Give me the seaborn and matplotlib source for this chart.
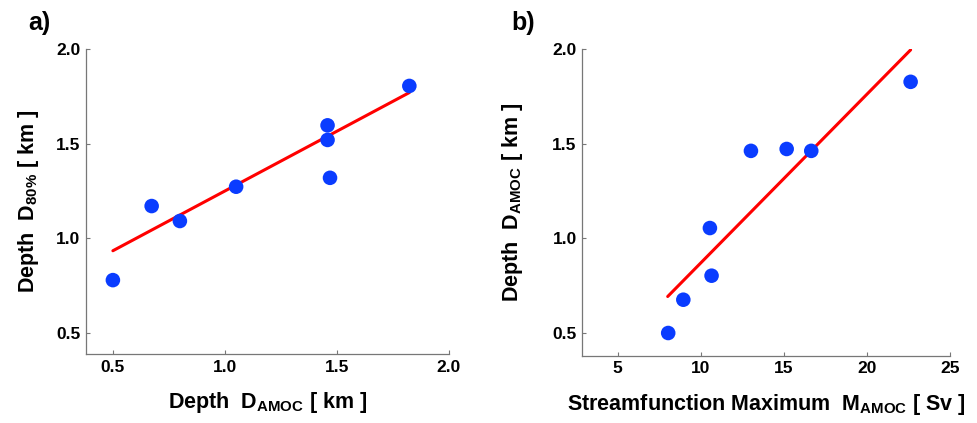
import numpy as np
import pandas as pd
import matplotlib
matplotlib.use("Agg")
import matplotlib.pyplot as plt
import seaborn as sns

# Panel a data
a_x = [0.50, 0.673, 0.799, 1.05, 1.458, 1.458, 1.469, 1.823]
a_y = [0.78, 1.171, 1.092, 1.273, 1.597, 1.52, 1.32, 1.805]
a_fit_x = [0.50, 1.823]
a_fit_y = [0.935, 1.77]

# Panel b data
b_x = [8.04, 8.95, 10.55, 10.65, 13.02, 15.17, 16.65, 22.63]
b_y = [0.50, 0.676, 1.055, 0.803, 1.463, 1.473, 1.463, 1.828]
b_fit_x = [8.01, 22.63]
b_fit_y = [0.693, 1.997]

a_xticks = [0.5, 1.0, 1.5, 2.0]
b_xticks = [5, 10, 15, 20, 25]
yticks = [0.5, 1.0, 1.5, 2.0]

sns.set_style("ticks")
plt.rcParams['font.family'] = ['Liberation Sans', 'DejaVu Sans']
plt.rcParams['font.weight'] = 'bold'
plt.rcParams['text.color'] = 'black'
plt.rcParams['axes.labelcolor'] = 'black'
plt.rcParams['xtick.labelcolor'] = 'black'
plt.rcParams['ytick.labelcolor'] = 'black'
plt.rcParams['mathtext.fontset'] = 'custom'
plt.rcParams['mathtext.rm'] = 'Liberation Sans:bold'
plt.rcParams['mathtext.bf'] = 'Liberation Sans:bold'
plt.rcParams['mathtext.it'] = 'Liberation Sans:bold'
plt.rcParams['mathtext.default'] = 'bf'

fig = plt.figure(figsize=(9.77, 4.23), dpi=100)
ax1 = fig.add_axes([86/977, 1-354/423, (449-86)/977, (354-49)/423])
ax2 = fig.add_axes([582.3/977, 1-355.7/423, (950-582.3)/977, (355.7-49.3)/423])

blue = "#0a3cff"
red = "#ff0000"
TICK_FS = 12.5
LABEL_FS = 15.5

def style(ax, xlim, ylim, xticks, xfmt):
    ax.set_xlim(*xlim)
    ax.set_ylim(*ylim)
    ax.set_xticks(xticks)
    ax.set_yticks(yticks)
    ax.set_xticklabels([xfmt.format(v) for v in xticks], fontsize=TICK_FS, fontweight='bold', color='black')
    ax.set_yticklabels(["{:.1f}".format(v) for v in yticks], fontsize=TICK_FS, fontweight='bold', color='black')
    for s in ['top', 'right']:
        ax.spines[s].set_visible(False)
    for s in ['left', 'bottom']:
        ax.spines[s].set_color('#777777')
        ax.spines[s].set_linewidth(0.9)
    ax.tick_params(direction='in', length=3, width=0.8, color='#777777', pad=4)
    ax.tick_params(axis='y', pad=4)

df_a = pd.DataFrame({'x': a_x, 'y': a_y})
df_af = pd.DataFrame({'x': a_fit_x, 'y': a_fit_y})
sns.lineplot(data=df_af, x='x', y='y', color=red, linewidth=2.2, ax=ax1)
sns.scatterplot(data=df_a, x='x', y='y', color=blue, s=110, edgecolor='none', ax=ax1, zorder=3)
style(ax1, (0.38, 2.0), (0.39, 2.0), a_xticks, "{:.1f}")
ax1.set_xlabel(r"Depth  D$_{AMOC}$ [ km ]", fontsize=LABEL_FS, fontweight='bold', labelpad=11, color='black')
ax1.set_ylabel(r"Depth  D$_{80\%}$ [ km ]", fontsize=LABEL_FS, fontweight='bold', labelpad=11, color='black')

df_b = pd.DataFrame({'x': b_x, 'y': b_y})
df_bf = pd.DataFrame({'x': b_fit_x, 'y': b_fit_y})
sns.lineplot(data=df_bf, x='x', y='y', color=red, linewidth=2.2, ax=ax2)
sns.scatterplot(data=df_b, x='x', y='y', color=blue, s=110, edgecolor='none', ax=ax2, zorder=3)
style(ax2, (2.87, 25), (0.38, 2.0), b_xticks, "{:d}")
ax2.set_xlabel(r"Streamfunction Maximum  M$_{AMOC}$ [ Sv ]", fontsize=LABEL_FS, fontweight='bold', labelpad=11, color='black')
ax2.set_ylabel(r"Depth  D$_{AMOC}$ [ km ]", fontsize=LABEL_FS, fontweight='bold', labelpad=20, color='black')

fig.text(28/977, 1-23/423, "a)", fontsize=18, fontweight='bold', va='center', ha='left', color='black')
fig.text(511/977, 1-23/423, "b)", fontsize=18, fontweight='bold', va='center', ha='left', color='black')

fig.savefig("out.png", dpi=100)
